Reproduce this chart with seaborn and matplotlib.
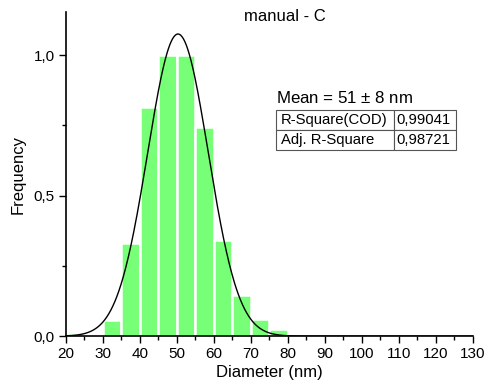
import numpy as np
import matplotlib
matplotlib.use("Agg")
import matplotlib.pyplot as plt
import seaborn as sns

# Data
bin_edges = [20, 25, 30, 35, 40, 45, 50, 55, 60, 65, 70, 75, 80, 85]
frequencies = [0.010, 0.007, 0.057, 0.332, 0.814, 1.0, 1.0, 0.745, 0.343, 0.146, 0.062, 0.026, 0.004]
fit_center = 50.3
fit_sigma = 8.2
fit_amplitude = 1.075
x_ticks = [20, 30, 40, 50, 60, 70, 80, 90, 100, 110, 120, 130]
y_ticks = [0.0, 0.5, 1.0]
y_tick_labels = ["0,0", "0,5", "1,0"]
table_rows = [["R-Square(COD)", "0,99041"], ["Adj. R-Square", "0,98721"]]
mean_text = "Mean = 51 $\\pm$ 8 nm"

sns.set_style("ticks")
plt.rcParams['font.family'] = ['Liberation Sans', 'DejaVu Sans']
plt.rcParams['mathtext.fontset'] = 'custom'
plt.rcParams['mathtext.rm'] = 'Liberation Sans'
plt.rcParams['text.color'] = 'black'
plt.rcParams['axes.labelcolor'] = 'black'
plt.rcParams['xtick.color'] = 'black'
plt.rcParams['ytick.color'] = 'black'

fig = plt.figure(figsize=(4.88, 3.90), dpi=100)
ax = fig.add_axes([0.135, 0.138, 0.834, 0.831])

centers = [(bin_edges[i] + bin_edges[i + 1]) / 2 for i in range(len(frequencies))]
sns.histplot(x=centers, weights=frequencies, bins=bin_edges, ax=ax,
             color="#77FF77", alpha=1.0, edgecolor="white", linewidth=1.8)

xs = np.linspace(20, 130, 600)
ys = fit_amplitude * np.exp(-0.5 * ((xs - fit_center) / fit_sigma) ** 2)
sns.lineplot(x=xs, y=ys, ax=ax, color="black", linewidth=1.0)

ax.set_xlim(20, 130)
ax.set_ylim(0, 1.153)
ax.set_xticks(x_ticks)
ax.set_xticks(np.arange(25, 130, 10), minor=True)
ax.set_yticks(y_ticks)
ax.set_yticklabels(y_tick_labels)
ax.set_yticks([0.25, 0.75], minor=True)
ax.tick_params(axis='both', which='major', direction='out', length=5, width=1.0, labelsize=11, color='black', labelcolor='black', pad=3)
ax.tick_params(axis='both', which='minor', direction='out', length=3, width=1.0, color='black')
for s in ['top', 'right']:
    ax.spines[s].set_visible(False)
for s in ['left', 'bottom']:
    ax.spines[s].set_linewidth(1.2)
    ax.spines[s].set_color('black')
ax.set_xlabel("Diameter (nm)", fontsize=12, labelpad=3, color='black')
ax.set_ylabel("Frequency", fontsize=12, labelpad=6, color='black')

fig.text(0.584, 0.958, "manual - C", ha='center', va='center', fontsize=12, color='black')
ax.text(0.516, 0.71, mean_text, transform=ax.transAxes, fontsize=12.2, ha='left', va='bottom', color='black')

tbl = ax.table(cellText=table_rows, cellLoc='left', colWidths=[0.656, 0.344],
               bbox=[0.516, 0.574, 0.442, 0.124])
tbl.auto_set_font_size(False)
tbl.set_fontsize(10.7)
for (r, c), cell in tbl.get_celld().items():
    cell.set_edgecolor('#555555')
    cell.set_linewidth(0.8)
    cell.PAD = 0.04
    cell.get_text().set_color('black')

fig.savefig("out.png", dpi=100)
